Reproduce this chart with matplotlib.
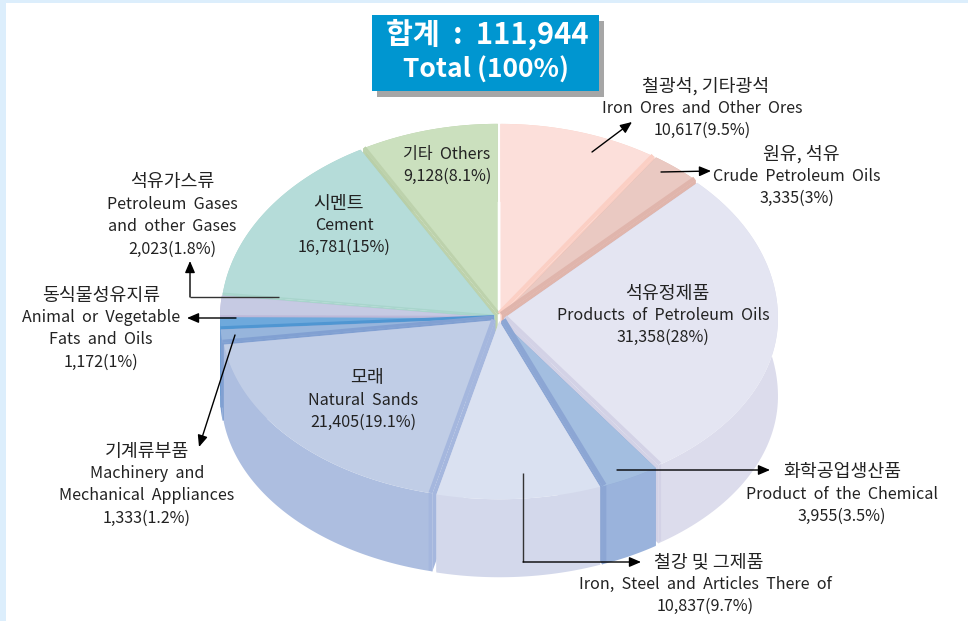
import numpy as np
import matplotlib
matplotlib.use("Agg")
import matplotlib.pyplot as plt
from matplotlib.patches import Polygon, Rectangle

plt.rcParams['font.family'] = ['Noto Sans CJK KR', 'DejaVu Sans']

# clockwise from 12 o'clock
names_ko = ["철광석, 기타광석", "원유, 석유", "석유정제품", "화학공업생산품", "철강 및 그제품",
            "모래", "기계류부품", "동식물성유지류", "석유가스류", "시멘트", "기타"]
names_en = ["Iron  Ores  and  Other  Ores", "Crude  Petroleum  Oils", "Products  of  Petroleum  Oils",
            "Product  of  the  Chemical", "Iron,  Steel  and  Articles  There  of", "Natural  Sands",
            "Machinery  and\nMechanical  Appliances", "Animal  or  Vegetable\nFats  and  Oils",
            "Petroleum  Gases\nand  other  Gases", "Cement", "Others"]
values = [10617, 3335, 31358, 3955, 10837, 21405, 1333, 1172, 2023, 16781, 9128]
shares = ["9.5", "3", "28", "3.5", "9.7", "19.1", "1.2", "1", "1.8", "15", "8.1"]

top_colors = ["#FCDFDA", "#EAC9C2", "#E4E5F2", "#A3BEE0", "#DAE1F1", "#C0CDE6",
              "#97B5DC", "#6EA9DC", "#C6CAE3", "#B5DCD9", "#CBE0BE"]
wall_colors = ["#FBCFC4", "#E0B5AC", "#DCDCEC", "#9AB3DC", "#D3D8EB", "#ADBEE0",
               "#81A0D2", "#4F96D2", "#BDB8D8", "#A8D5CC", "#B9CFA8"]
cut_colors = ["#FBCFC4", "#E0B5AC", "#D3D2E6", "#8CA6D4", "#D3D8EB", "#A5B7DE",
              "#81A0D2", "#4F96D2", "#BDB8D8", "#A8D5CC", "#BDD2AC"]
# which radial edge shows a side band, and how wide
band_edge = ["end", "end", "end", "end", None, "start", "start", "start", "start", "start", "start"]
band_width = [4, 4, 4, 5, 0, 4, 3, 3, 2, 1.5, 3]

cx, cy, rx = 499, 318, 274
ry_back, ry_front = 191, 178
depth = 78
gap = 5

fig = plt.figure(figsize=(9.68, 6.21), dpi=100)
ax = fig.add_axes([0, 0, 1, 1])
ax.set_xlim(0, 968)
ax.set_ylim(621, 0)
ax.axis('off')

# light blue page edge
ax.add_patch(Rectangle((0, 0), 968, 3, color="#DCEEFC", lw=0))
ax.add_patch(Rectangle((0, 0), 6, 621, color="#DCEEFC", lw=0))


def draw_slice(a0, a1, top, wall, cut, edge, width):
    mid = (a0 + a1) / 2
    ox = cx + gap * np.sin(mid)
    oy = cy - gap * np.cos(mid) * ry_front / rx
    t = np.linspace(a0, a1, 80)
    c = np.cos(t)
    px = ox + rx * np.sin(t)
    py = oy - np.where(c > 0, ry_back, ry_front) * c
    arc = np.column_stack([px, py])
    low = arc + [0, depth]
    apex = np.array([ox, oy])
    down = np.array([0, depth])
    ax.add_patch(Polygon([apex, arc[0], low[0], apex + down], color=cut, lw=0))
    ax.add_patch(Polygon([apex, arc[-1], low[-1], apex + down], color=cut, lw=0))
    ax.add_patch(Polygon(np.vstack([arc, low[::-1]]), color=wall, lw=0))
    if edge:
        # band along the cut edge, running on down the rim wall
        rim = arc[-1] if edge == "end" else arc[0]
        other = arc[0] if edge == "end" else arc[-1]
        along = rim - apex
        n = np.array([-along[1], along[0]]) / np.hypot(*along)
        if np.dot(n, other - apex) < 0:
            n = -n
        inner = rim + n * width
        ax.add_patch(Polygon([rim, inner, inner + down, rim + down], color=cut, lw=0))
    ax.add_patch(Polygon(np.vstack([apex, arc]), color=top, lw=0))
    if edge:
        ax.add_patch(Polygon([apex, rim, inner, apex + n * width], color=cut, lw=0))


edges = np.cumsum([0] + values) / sum(values) * 2 * np.pi
mids = (edges[:-1] + edges[1:]) / 2
# back slices first so the front ones cover them
order = np.argsort(-np.abs(mids - np.pi))
for i in order:
    draw_slice(edges[i], edges[i + 1], top_colors[i], wall_colors[i], cut_colors[i],
               band_edge[i], band_width[i])

# title box
ax.add_patch(Rectangle((377, 21), 227, 76, color="#A6A6A6", lw=0))
ax.add_patch(Rectangle((372, 15), 227, 76, color="#0096D0", lw=0))
ax.text(487, 34, "합계  :  111,944", color="white", fontsize=21, fontweight='bold', ha='center', va='center')
ax.text(486, 70, "Total (100%)", color="white", fontsize=19, fontweight='bold', ha='center', va='center')

# label centre x, first line y, and the sideways shift of the Korean line
label_pos = [(702, 85.5), (797, 153.5), (663, 292.5), (842, 471.5), (705, 561.5), (363, 377.5),
             (147, 450.5), (101, 294.5), (172, 181.5), (344, 202.5), (447, 154)]
ko_shift = [4, 4, 4, 0, 4, 4, 0, 0, 0, -5, 0]
line_step = 22.6
for i, (x, y) in enumerate(label_pos):
    amount = f"{values[i]:,}({shares[i]}%)"
    if names_en[i] == "Others":
        rows = [names_ko[i] + "  " + names_en[i], amount]
    else:
        rows = [names_ko[i]] + names_en[i].split("\n") + [amount]
    for k, row in enumerate(rows):
        if k == 0 and names_en[i] != "Others":
            ax.text(x + ko_shift[i], y + 1, row, fontsize=13.2, color="#222222", ha='center', va='center')
        else:
            ax.text(x, y + k * line_step, row, fontsize=11.6, color="#222222", ha='center', va='center')

# leader lines
arrow_style = dict(arrowstyle="-|>,head_width=0.3,head_length=0.7", color="black", lw=1,
                   shrinkA=0, shrinkB=0)
arrows = [((592, 152), (632, 122)), ((661, 172), (711, 171)), ((236, 318), (187, 318)),
          ((235, 335), (199, 447)), ((617, 470), (770, 470)), ((523, 562), (641, 562)),
          ((190, 297), (190, 261))]
for start, end in arrows:
    ax.annotate("", xy=end, xytext=start, arrowprops=arrow_style)
ax.plot([279, 190], [297, 297], color="#333333", lw=1, solid_capstyle='butt')
ax.plot([523, 523], [473, 562], color="#333333", lw=1, solid_capstyle='butt')

fig.savefig("out.png", dpi=100)
